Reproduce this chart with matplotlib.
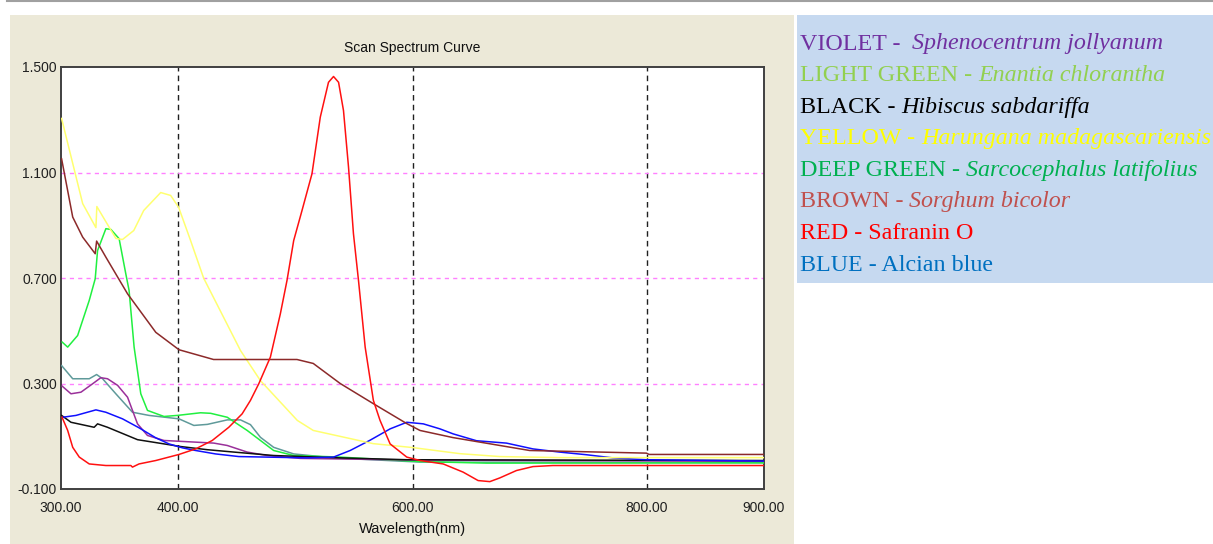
import matplotlib
matplotlib.use("Agg")
import matplotlib.pyplot as plt
from matplotlib import font_manager
from matplotlib.patches import Rectangle
from matplotlib.lines import Line2D

# UV-Vis scans: wavelength (nm) and absorbance for each extract / stain
violet_wl = [301, 308.5, 317, 327, 334, 339.7, 348.3, 356.8, 365.3, 373.8, 387.9,
             430.5, 441.9, 458.9, 475.9, 504.3, 600, 700, 900]
violet_abs = [0.290, 0.261, 0.267, 0.299, 0.322, 0.318, 0.293, 0.248, 0.147, 0.103, 0.084,
              0.074, 0.065, 0.040, 0.027, 0.016, 0.010, 0.008, 0.005]

lgreen_wl = [301, 305.7, 314.2, 324.1, 329.2, 331.2, 338.3, 342.6, 349.6, 355.3, 358.1,
             362.4, 368.1, 373.8, 387.9, 399.3, 419.1, 427.7, 441.9, 458.9, 481.5,
             498.6, 538.3, 606.4, 663.4, 900]
lgreen_abs = [0.457, 0.438, 0.482, 0.615, 0.697, 0.804, 0.887, 0.884, 0.849, 0.716, 0.653,
              0.438, 0.261, 0.198, 0.175, 0.179, 0.189, 0.187, 0.172, 0.122, 0.046,
              0.027, 0.021, 0.004, -0.002, -0.001]

black_wl = [300.5, 308.5, 328.3, 331.2, 339.7, 365.3, 402.1, 424.9, 447.5, 481.5,
            538.3, 595.1, 900]
black_abs = [0.179, 0.153, 0.134, 0.147, 0.134, 0.087, 0.061, 0.049, 0.040, 0.027,
             0.018, 0.011, 0.008]

yellow_wl = [300.5, 318.5, 329.8, 330.6, 346.8, 352.5, 362.1, 370.6, 385.1, 393.6,
             400.4, 410.6, 421.7, 453.2, 470.2, 501.7, 515.3, 566.4, 600.4, 640.4,
             674.5, 725.5, 900]
yellow_abs = [1.305, 0.982, 0.891, 0.971, 0.850, 0.846, 0.880, 0.956, 1.024, 1.013,
              0.968, 0.842, 0.700, 0.425, 0.311, 0.160, 0.122, 0.072, 0.057, 0.034,
              0.023, 0.019, 0.019]

dgreen_wl = [300.5, 310, 324.1, 330.4, 335.5, 346.8, 361, 375.1, 400.7, 413.4, 424.9,
             441.9, 453.2, 461.7, 470.2, 481.5, 498.6, 532.6, 606.4, 900]
dgreen_abs = [0.368, 0.318, 0.318, 0.334, 0.318, 0.261, 0.191, 0.179, 0.166, 0.141, 0.145,
              0.162, 0.162, 0.144, 0.096, 0.058, 0.033, 0.018, 0.002, 0.000]

brown_wl = [300.5, 310, 318.5, 329.2, 330.4, 338.3, 356.8, 380.9, 400.7, 430.2, 501.4,
            515.3, 538.3, 566.4, 595.1, 606.4, 634.5, 700, 799.6, 802, 900]
brown_abs = [1.152, 0.931, 0.855, 0.792, 0.840, 0.779, 0.640, 0.494, 0.428, 0.391, 0.391,
             0.376, 0.300, 0.224, 0.148, 0.122, 0.095, 0.046, 0.036, 0.031, 0.031]

red_wl = [300.9, 305.7, 310, 315.6, 324.1, 338.3, 359.6, 361, 366.6, 380.9, 400.7,
          414.9, 429.1, 443.2, 454.6, 461.7, 468.8, 478.7, 487.2, 492.9, 498.6, 505.7,
          514.2, 521.3, 528.3, 532.6, 536.9, 541.1, 545.4, 549.6, 553.9, 559.6, 566.6,
          572.3, 580.9, 595.1, 606.4, 626.2, 643.2, 656, 666, 674.5, 688.7, 702.8,
          719.8, 900]
red_abs = [0.172, 0.122, 0.058, 0.021, -0.005, -0.011, -0.011, -0.017, -0.005, 0.008, 0.031,
           0.052, 0.084, 0.134, 0.185, 0.236, 0.299, 0.400, 0.564, 0.691, 0.842, 0.956,
           1.095, 1.310, 1.442, 1.464, 1.442, 1.335, 1.120, 0.868, 0.691, 0.438, 0.236,
           0.160, 0.071, 0.021, 0.008, -0.005, -0.036, -0.068, -0.072, -0.058, -0.030, -0.015,
           -0.011, -0.011]

blue_wl = [301.4, 312.8, 329.8, 338.3, 352.5, 366.6, 380.9, 392.2, 403.6, 414.9, 431.9,
           451.7, 509.9, 532.6, 546.8, 563.8, 580.9, 595.1, 609.2, 623.4, 634.7, 654.6,
           680.2, 702.8, 725.5, 748.3, 770.9, 799.3, 900]
blue_abs = [0.172, 0.179, 0.200, 0.191, 0.166, 0.132, 0.094, 0.071, 0.056, 0.046, 0.033,
            0.023, 0.018, 0.021, 0.046, 0.085, 0.128, 0.153, 0.147, 0.128, 0.109, 0.083,
            0.074, 0.052, 0.040, 0.030, 0.018, 0.011, 0.006]

xticks = [300, 400, 600, 800, 900]
yticks = [1.5, 1.1, 0.7, 0.3, -0.1]
xgrid = [400, 600, 800]
ygrid = [1.1, 0.7, 0.3]

legend_names = ["VIOLET -", "LIGHT GREEN -", "BLACK -", "YELLOW -", "DEEP GREEN -",
                "BROWN -", "RED - Safranin O", "BLUE - Alcian blue"]
legend_species = ["Sphenocentrum jollyanum", "Enantia chlorantha", "Hibiscus sabdariffa",
                  "Harungana madagascariensis", "Sarcocephalus latifolius",
                  "Sorghum bicolor", "", ""]
legend_colors = ["#7030a0", "#92d050", "#000000", "#ffff00", "#00b050",
                 "#c0504d", "#ff0000", "#0070c0"]

# pick a narrow sans for the instrument-style labels if one is around
installed = {f.name for f in font_manager.fontManager.ttflist}
narrow = next((f for f in ["Liberation Sans Narrow", "DejaVu Sans Condensed"] if f in installed),
              "Liberation Sans")

W, H = 1213, 544
fig = plt.figure(figsize=(W / 100, H / 100), dpi=100)
fig.patch.set_facecolor("white")

# beige panel behind the plot, grey rule on top, blue key box on the right
fig.add_artist(Rectangle((10 / W, 0), 783.5 / W, 529 / H, transform=fig.transFigure,
                         facecolor="#ece9d8", edgecolor="none", zorder=0))
fig.add_artist(Line2D([7 / W, 1], [1 - 1 / H, 1 - 1 / H], transform=fig.transFigure,
                      color="#a0a0a0", lw=1.5))
fig.add_artist(Rectangle((797 / W, 1 - 283 / H), 416 / W, 268 / H, transform=fig.transFigure,
                         facecolor="#c6d9f0", edgecolor="none", zorder=0))

ax = fig.add_axes([61 / W, 1 - 489 / H, 703 / W, 422 / H])
ax.set_facecolor("white")
ax.set_xlim(300, 900)
ax.set_ylim(-0.1, 1.5)

for x in xgrid:
    ax.axvline(x, color="#202020", lw=1.0, ls=(0, (4, 3)), zorder=1)
for y in ygrid:
    ax.axhline(y, color="#ff80ff", lw=1.0, ls=(0, (3, 3)), zorder=1)

series = [
    (dgreen_wl, dgreen_abs, "#5f9a9a"),
    (lgreen_wl, lgreen_abs, "#20f040"),
    (violet_wl, violet_abs, "#9a309a"),
    (black_wl, black_abs, "#101010"),
    (blue_wl, blue_abs, "#1010ff"),
    (yellow_wl, yellow_abs, "#ffff70"),
    (brown_wl, brown_abs, "#8c2a2a"),
    (red_wl, red_abs, "#ff1010"),
]
for wl, a, c in series:
    ax.plot(wl, a, color=c, lw=1.1, zorder=3)

ax.set_xticks(xticks)
ax.set_xticklabels([f"{v:.2f}" for v in xticks])
ax.set_yticks(yticks)
ax.set_yticklabels([f"{v:.3f}" for v in yticks])
ax.tick_params(axis="both", length=0, labelsize=10, colors="#202020")
ax.tick_params(axis="x", pad=9)
ax.tick_params(axis="y", pad=3)
for lab in ax.get_xticklabels() + ax.get_yticklabels():
    lab.set_fontfamily(narrow)
for s in ax.spines.values():
    s.set_color("#404040")
    s.set_linewidth(1.4)

ax.set_title("Scan Spectrum Curve", fontsize=10, family=narrow, color="#101010", pad=11)
ax.set_xlabel("Wavelength(nm)", fontsize=10.5, family=narrow, color="#101010", labelpad=5)

# key text: plain colour name, then the italic species name
for i, (name, sp, c) in enumerate(zip(legend_names, legend_species, legend_colors)):
    yb = 1 - (49.5 + 31.6 * i) / H
    t = fig.text(800 / W, yb, name, color=c, fontsize=17.3, family="Liberation Serif",
                 va="baseline", ha="left")
    if sp:
        gap = 8.6 if i == 0 else 4.3
        ax.annotate(sp, xy=(1, 0), xycoords=t, xytext=(gap, 0), textcoords="offset points",
                    color=c, fontsize=17.3, family="Liberation Serif", style="italic",
                    va="bottom", ha="left", annotation_clip=False)

fig.savefig("out.png", dpi=100, facecolor=fig.get_facecolor())
